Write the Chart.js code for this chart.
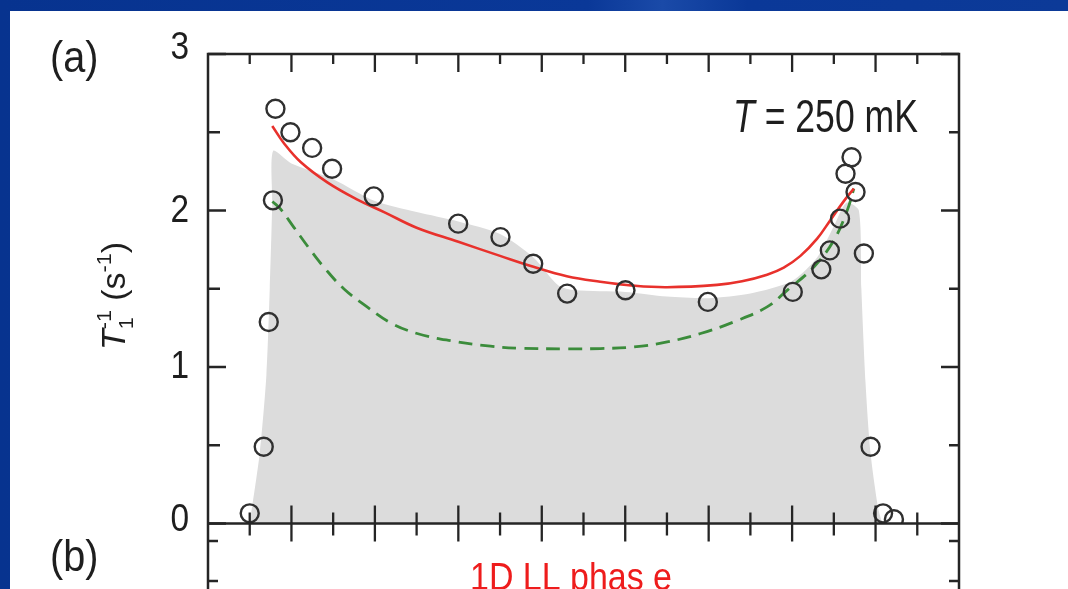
<!DOCTYPE html>
<html>
<head>
<meta charset="utf-8">
<script src="https://cdn.jsdelivr.net/npm/chart.js@4.4.1/dist/chart.umd.min.js"></script>
<style>
  html, body { margin: 0; padding: 0; background: #0b3796; overflow: hidden; }
  #wrap { width: 1068px; height: 589px; position: relative; }
  canvas { display: block; }
</style>
</head>
<body>
<div id="wrap"><canvas id="c" width="1068" height="589"></canvas></div>
<script>
// ---- data ----
const pointX = [0.50, 0.668, 0.728, 0.778, 0.808, 0.988, 1.248, 1.487, 1.986, 2.998, 3.505, 3.897, 4.304, 5.003, 5.99, 7.008, 7.35, 7.452, 7.574, 7.64, 7.712, 7.76, 7.86, 7.94, 8.09, 8.22];
const pointY = [0.065, 0.49, 1.288, 2.065, 2.65, 2.50, 2.40, 2.267, 2.09, 1.916, 1.83, 1.66, 1.469, 1.49, 1.416, 1.48, 1.624, 1.745, 1.948, 2.235, 2.34, 2.118, 1.725, 0.49, 0.065, 0.027];

const redX = [0.77, 0.91, 1.11, 1.43, 1.79, 2.11, 2.5, 3.0, 3.5, 3.9, 4.3, 4.7, 5.1, 5.5, 6.1, 6.4, 6.7, 6.9, 7.1, 7.3, 7.46, 7.62, 7.74];
const redY = [2.54, 2.43, 2.31, 2.18, 2.07, 1.99, 1.89, 1.80, 1.71, 1.64, 1.58, 1.545, 1.52, 1.51, 1.525, 1.548, 1.59, 1.635, 1.71, 1.82, 1.94, 2.06, 2.14];

const greenX = [0.772, 0.868, 1.027, 1.228, 1.387, 1.627, 1.907, 2.186, 2.506, 2.906, 3.385, 3.745, 4.304, 4.703, 5.103, 5.503, 5.903, 6.30, 6.70, 6.94, 7.26, 7.50, 7.66, 7.74];
const greenY = [2.058, 2.01, 1.894, 1.747, 1.639, 1.50, 1.384, 1.283, 1.214, 1.168, 1.133, 1.12, 1.116, 1.118, 1.128, 1.16, 1.214, 1.288, 1.384, 1.49, 1.639, 1.81, 2.0, 2.14];

const grayX = [0.50, 0.62, 0.70, 0.74, 0.77, 0.78, 1.0, 1.5, 2.0, 2.5, 3.0, 3.5, 3.9, 4.2, 4.4, 5.0, 5.5, 6.0, 6.5, 7.0, 7.3, 7.5, 7.65, 7.80, 7.83, 7.88, 7.94, 8.03, 8.08];
const grayY = [0.0, 0.45, 0.95, 1.5, 2.05, 2.38, 2.30, 2.20, 2.06, 1.99, 1.93, 1.85, 1.70, 1.52, 1.49, 1.48, 1.45, 1.44, 1.47, 1.55, 1.70, 1.90, 2.05, 2.0, 1.5, 0.9, 0.45, 0.1, 0.0];

const xMajorTicks = [1, 2, 3, 4, 5, 6, 7, 8];
const xMinorTicks = [0.5, 1.5, 2.5, 3.5, 4.5, 5.5, 6.5, 7.5, 8.5];
const yMajorTicks = [0, 1, 2, 3];
const yMinorTicks = [0.5, 1.5, 2.5];
const yTickLabels = ["0", "1", "2", "3"];

const toXY = (xs, ys) => xs.map((x, i) => ({ x: x, y: ys[i] }));

const FONT = '"Liberation Sans", Arial, sans-serif';

function richText(ctx, segs, x, y, align, targetW, sxFixed) {
  let widths = [];
  let total = 0;
  segs.forEach((s, i) => {
    ctx.font = (s.italic ? 'italic ' : '') + s.size + 'px ' + FONT;
    const w = ctx.measureText(s.t).width;
    widths.push(w);
    if (!s.stack) total += w; else total += Math.max(0, w - widths[i - 1]);
  });
  const sx = targetW ? targetW / total : (sxFixed || 1);
  ctx.save();
  ctx.translate(x, y);
  ctx.scale(sx, 1);
  let cx = align === 'center' ? -total / 2 : (align === 'right' ? -total : 0);
  let prevStart = cx;
  segs.forEach((s, i) => {
    ctx.font = (s.italic ? 'italic ' : '') + s.size + 'px ' + FONT;
    ctx.textAlign = 'left';
    ctx.textBaseline = 'alphabetic';
    if (s.stack) {
      ctx.fillText(s.t, prevStart, s.dy || 0);
      cx = Math.max(cx, prevStart + widths[i]);
    } else {
      prevStart = cx;
      ctx.fillText(s.t, cx, s.dy || 0);
      cx += widths[i];
    }
  });
  ctx.restore();
}

const decor = {
  id: 'decor',
  beforeDraw(chart) {
    const ctx = chart.ctx;
    const W = chart.width, H = chart.height;
    ctx.save();
    const g = ctx.createLinearGradient(0, 0, W, 0);
    g.addColorStop(0, '#07338f');
    g.addColorStop(0.55, '#0a3898');
    g.addColorStop(0.62, '#1a4aa8');
    g.addColorStop(0.7, '#0a3898');
    g.addColorStop(1, '#0c3a98');
    ctx.fillStyle = g;
    ctx.fillRect(0, 0, W, H);
    ctx.fillStyle = '#ffffff';
    ctx.fillRect(10, 11, W - 10, H - 11);
    ctx.restore();
  },
  afterDatasetsDraw(chart) {
    const ctx = chart.ctx;
    const xs = chart.scales.x, ys = chart.scales.y;
    const a = chart.chartArea;
    ctx.save();
    ctx.strokeStyle = '#252525';
    ctx.lineWidth = 2.5;
    ctx.lineCap = 'butt';
    ctx.beginPath();
    ctx.moveTo(a.left, a.bottom);
    ctx.lineTo(a.left, a.top);
    ctx.lineTo(a.right, a.top);
    ctx.lineTo(a.right, a.bottom);
    ctx.moveTo(a.left - 1, a.bottom);
    ctx.lineTo(a.right + 1, a.bottom);
    ctx.moveTo(a.left, a.bottom);
    ctx.lineTo(a.left, chart.height);
    ctx.moveTo(a.right, a.bottom);
    ctx.lineTo(a.right, chart.height);
    ctx.stroke();

    ctx.lineWidth = 2.3;
    ctx.beginPath();
    xMajorTicks.forEach(v => {
      const px = xs.getPixelForValue(v);
      ctx.moveTo(px, a.bottom - 18); ctx.lineTo(px, a.bottom + 18);
      ctx.moveTo(px, a.top); ctx.lineTo(px, a.top + 18);
    });
    xMinorTicks.forEach(v => {
      const px = xs.getPixelForValue(v);
      ctx.moveTo(px, a.bottom - 11); ctx.lineTo(px, a.bottom + 12);
      ctx.moveTo(px, a.top); ctx.lineTo(px, a.top + 10);
    });
    yMajorTicks.forEach(v => {
      const py = ys.getPixelForValue(v);
      ctx.moveTo(a.left, py); ctx.lineTo(a.left + 18, py);
      ctx.moveTo(a.right, py); ctx.lineTo(a.right - 18, py);
    });
    yMinorTicks.forEach(v => {
      const py = ys.getPixelForValue(v);
      ctx.moveTo(a.left, py); ctx.lineTo(a.left + 12, py);
      ctx.moveTo(a.right, py); ctx.lineTo(a.right - 10, py);
    });
    [17.5, 57.5].forEach(off => {
      ctx.moveTo(a.left, a.bottom + off); ctx.lineTo(a.left + 10, a.bottom + off);
      ctx.moveTo(a.right, a.bottom + off); ctx.lineTo(a.right - 10, a.bottom + off);
    });
    ctx.stroke();

    // y tick labels
    ctx.fillStyle = '#1e1e1e';
    yMajorTicks.forEach((v, i) => {
      const py = ys.getPixelForValue(v);
      const shift = (i === yMajorTicks.length - 1) ? -8 : (i === 0 ? -6 : -2);
      richText(ctx, [{ t: yTickLabels[i], size: 38 }], a.left - 19, py + shift + 13, 'right', null, 0.88);
    });

    // panel labels
    richText(ctx, [{ t: '(a)', size: 44 }], 50, 72, 'left', null, 0.9);
    richText(ctx, [{ t: '(b)', size: 44 }], 50, 571, 'left', null, 0.9);

    // T = 250 mK
    richText(ctx, [
      { t: 'T', size: 46, italic: true },
      { t: ' = 250 mK', size: 46 }
    ], 733, 132, 'left', 185);

    // y title
    ctx.save();
    ctx.translate(125, 296);
    ctx.rotate(-Math.PI / 2);
    richText(ctx, [
      { t: 'T', size: 33, italic: true },
      { t: '1', size: 21, dy: 8 },
      { t: '-1', size: 21, dy: -14, stack: true },
      { t: ' (s', size: 33 },
      { t: '-1', size: 21, dy: -14 },
      { t: ')', size: 33 }
    ], 0, 0, 'center', 108);
    ctx.restore();

    // 1D LL phase
    ctx.fillStyle = '#ee1c1c';
    richText(ctx, [{ t: '1D LL phas e', size: 38 }], 470, 590, 'left', 202);
    ctx.restore();
  }
};

new Chart(document.getElementById('c'), {
  type: 'scatter',
  data: {
    datasets: [
      {
        label: 'data',
        data: toXY(pointX, pointY),
        pointRadius: 9,
        pointHoverRadius: 9,
        pointBackgroundColor: 'rgba(0,0,0,0)',
        pointBorderColor: '#303030',
        pointBorderWidth: 2.4,
        showLine: false
      },
      {
        label: 'fit',
        type: 'line',
        data: toXY(redX, redY),
        borderColor: '#e8312c',
        borderWidth: 2.6,
        pointRadius: 0,
        tension: 0.4,
        fill: false
      },
      {
        label: 'fit2',
        type: 'line',
        data: toXY(greenX, greenY),
        borderColor: '#3b8c3b',
        borderWidth: 2.8,
        borderDash: [14, 8],
        pointRadius: 0,
        tension: 0.4,
        fill: false
      },
      {
        label: 'region',
        type: 'line',
        data: toXY(grayX, grayY),
        borderWidth: 0,
        borderColor: 'rgba(0,0,0,0)',
        backgroundColor: '#dcdcdc',
        pointRadius: 0,
        tension: 0.25,
        fill: 'origin'
      }
    ]
  },
  options: {
    responsive: false,
    animation: false,
    devicePixelRatio: 1,
    layout: { padding: { left: 208, right: 109, top: 54, bottom: 65.5 } },
    scales: {
      x: { type: 'linear', min: 0, max: 9, display: false },
      y: { type: 'linear', min: 0, max: 3, display: false }
    },
    plugins: {
      legend: { display: false },
      tooltip: { enabled: false }
    }
  },
  plugins: [decor]
});
</script>
</body>
</html>
